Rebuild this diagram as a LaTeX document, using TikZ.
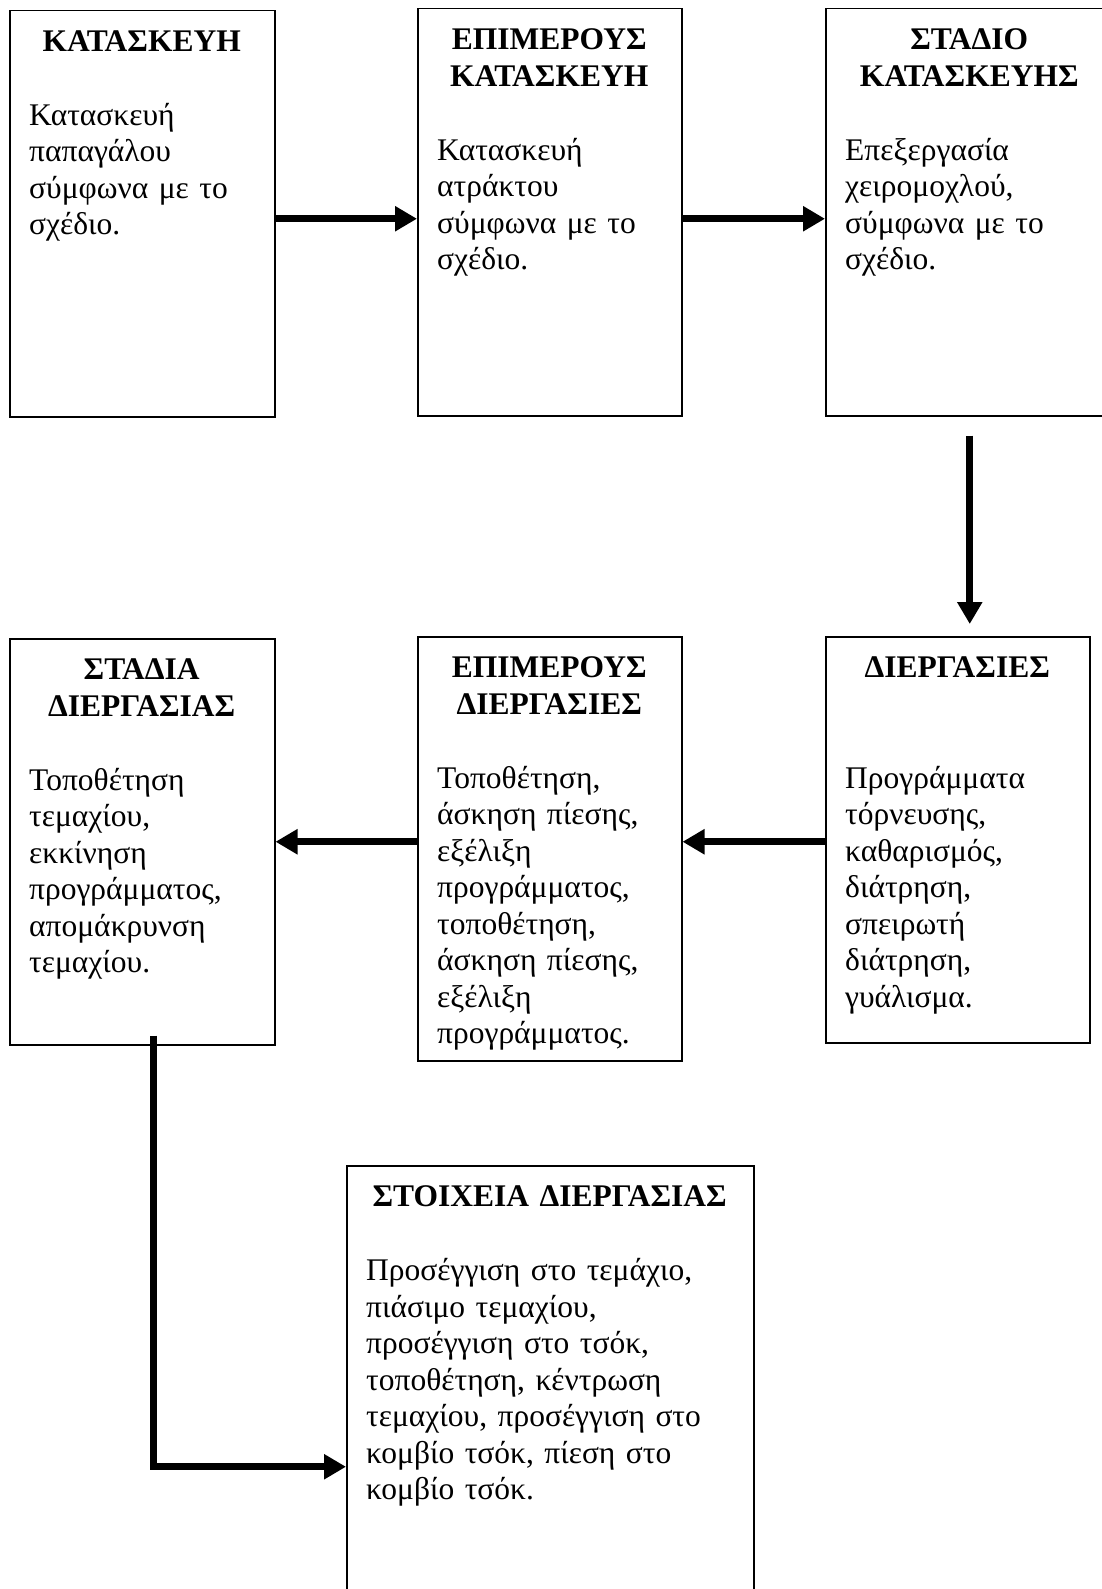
\documentclass[tikz,border=0pt]{standalone}
\usepackage{fontspec}
\setmainfont{Liberation Serif}
\usetikzlibrary{arrows.meta}

\begin{document}
\begin{tikzpicture}[x=1pt, y=-1pt, font=\fontsize{31.5}{36.5}\selectfont,
    stage/.style={draw, line width=1.5pt, anchor=north west, inner sep=0pt},
    txt/.style={anchor=north west, inner sep=0pt, align=left},
    flow/.style={line width=7pt, -{Triangle[length=22pt, width=24pt]}}]
  \clip (0,0) rectangle (1102,1589);
  % first row
  \node[stage, minimum width=265pt, minimum height=406pt] (kat) at (9,10) {};
  \node[stage, minimum width=264pt, minimum height=407pt] (epikat) at (417,8) {};
  \node[stage, minimum width=288pt, minimum height=407pt] (stkat) at (825,8) {};
  \node[txt, text width=225pt] (katt) at ([xshift=20pt, yshift=-20.5pt]kat.north west)
    {{\centering\bfseries ΚΑΤΑΣΚΕΥΗ\par}\vspace{37.5pt}Κατασκευή\\ παπαγάλου\\ σύμφωνα με το\\ σχέδιο.};
  \node[txt, text width=224pt] (epikatt) at ([xshift=20pt, yshift=-20.5pt]epikat.north west)
    {{\centering\bfseries ΕΠΙΜΕΡΟΥΣ\\ ΚΑΤΑΣΚΕΥΗ\par}\vspace{37.5pt}Κατασκευή\\ ατράκτου\\ σύμφωνα με το\\ σχέδιο.};
  \node[txt, text width=248pt] (stkatt) at ([xshift=20pt, yshift=-20.5pt]stkat.north west)
    {{\centering\bfseries ΣΤΑΔΙΟ\\ ΚΑΤΑΣΚΕΥΗΣ\par}\vspace{37.5pt}Επεξεργασία\\ χειρομοχλού,\\ σύμφωνα με το\\ σχέδιο.};
  % second row
  \node[stage, minimum width=265pt, minimum height=406pt] (stdie) at (9,638) {};
  \node[stage, minimum width=264pt, minimum height=424pt] (epidie) at (417,636) {};
  \node[stage, minimum width=264pt, minimum height=406pt] (die) at (825,636) {};
  \node[txt, text width=225pt] (stdiet) at ([xshift=20pt, yshift=-20.5pt]stdie.north west)
    {{\centering\bfseries ΣΤΑΔΙΑ\\ ΔΙΕΡΓΑΣΙΑΣ\par}\vspace{37.5pt}Τοποθέτηση\\ τεμαχίου,\\ εκκίνηση\\ προγράμματος,\\ απομάκρυνση\\ τεμαχίου.};
  \node[txt, text width=224pt] (epidiet) at ([xshift=20pt, yshift=-20.5pt]epidie.north west)
    {{\centering\bfseries ΕΠΙΜΕΡΟΥΣ\\ ΔΙΕΡΓΑΣΙΕΣ\par}\vspace{37.5pt}Τοποθέτηση,\\ άσκηση πίεσης,\\ εξέλιξη\\ προγράμματος,\\ τοποθέτηση,\\ άσκηση πίεσης,\\ εξέλιξη\\ προγράμματος.};
  \node[txt, text width=224pt] (diet) at ([xshift=20pt, yshift=-20.5pt]die.north west)
    {{\centering\bfseries ΔΙΕΡΓΑΣΙΕΣ\par}\vspace{74pt}Προγράμματα\\ τόρνευσης,\\ καθαρισμός,\\ διάτρηση,\\ σπειρωτή\\ διάτρηση,\\ γυάλισμα.};
  % third row
  \node[stage, minimum width=407pt, minimum height=602pt] (stoi) at (346,1165) {};
  \node[txt, text width=367pt] (stoit) at ([xshift=20pt, yshift=-20.5pt]stoi.north west)
    {{\centering\bfseries ΣΤΟΙΧΕΙΑ ΔΙΕΡΓΑΣΙΑΣ\par}\vspace{37.5pt}Προσέγγιση στο τεμάχιο,\\ πιάσιμο τεμαχίου,\\ προσέγγιση στο τσόκ,\\ τοποθέτηση, κέντρωση\\ τεμαχίου, προσέγγιση στο\\ κομβίο τσόκ, πίεση στο\\ κομβίο τσόκ.};
  % arrows
  \draw[flow] ([yshift=-5pt]kat.east) -- ([yshift=-5pt]kat.east -| epikat.west);
  \draw[flow] ([yshift=-5pt]kat.east -| epikat.east) -- ([yshift=-5pt]kat.east -| stkat.west);
  \draw[flow, shorten <=19pt, shorten >=12pt] (stkat.south) -- (stkat.south |- die.north);
  \draw[flow] (die.west |- stdie.east) -- (epidie.east |- stdie.east);
  \draw[flow] (epidie.west |- stdie.east) -- (stdie.east);
  \draw[flow] ([xshift=11.5pt, yshift=10pt]stdie.south) |- (stoi.west);
\end{tikzpicture}
\end{document}
